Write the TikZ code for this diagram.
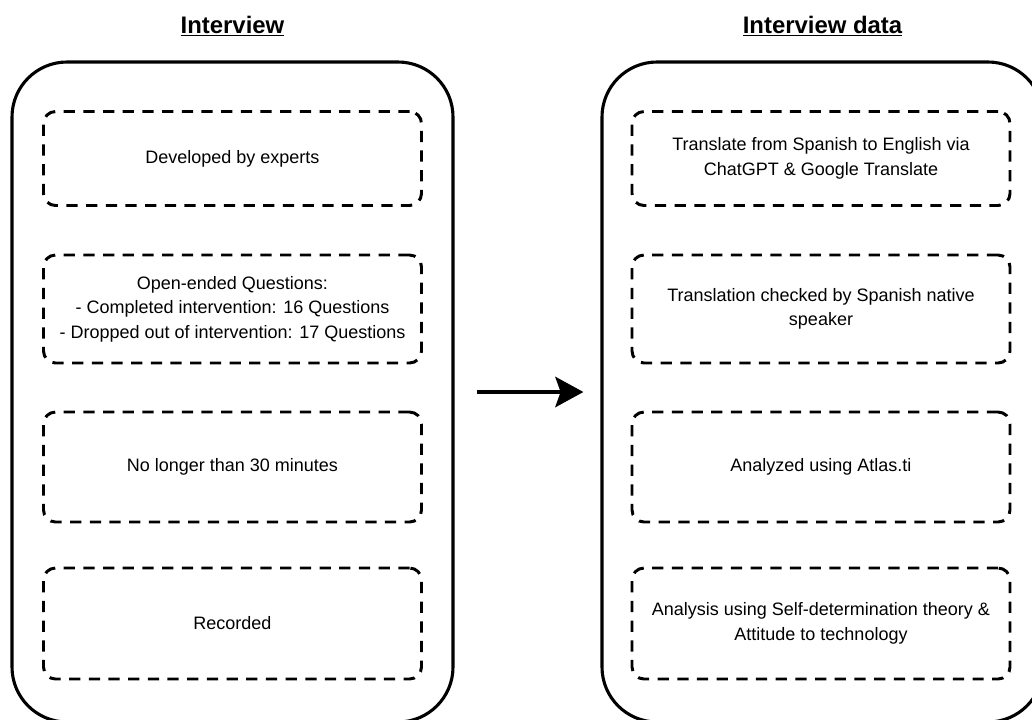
\documentclass[tikz,border=0pt]{standalone}
\usepackage{fontspec}
\setmainfont{Liberation Sans}
\usetikzlibrary{arrows.meta}

\begin{document}
\begin{tikzpicture}[
    every node/.style={font=\fontsize{12.8}{17.4}\selectfont, text=black},
    titulo/.style={font=\fontsize{17}{20}\selectfont\bfseries, anchor=base},
    bloque/.style={draw, line width=2.2pt, rounded corners=1.375cm, minimum width=11.025cm, minimum height=16.5cm},
    paso/.style={draw, line width=2.1pt, dash pattern=on 8pt off 6pt, rounded corners=0.3cm, minimum width=9.45cm, align=center}
]
\useasboundingbox (0,0) rectangle (25.8,-17.975);
% Titulos
\node[titulo] (tituloEntrevista) at (5.8125,-0.83) {\underline{Interview}};
\node[titulo] (tituloDatos) at (20.5625,-0.83) {\underline{Interview data}};
% Bloques
\node[bloque] (entrevista) at (5.8125,-9.8) {};
\node[bloque] (datos) at (20.5625,-9.8) {};
% Pasos de la entrevista
\node[paso, minimum height=2.35cm] (paso1) at (5.8125,-3.9625) {Developed by experts};
\node[paso, minimum height=2.7cm] (paso2) at (5.8125,-7.725) {Open-ended Questions:\\- Completed intervention: 16 Questions\\- Dropped out of intervention: 17 Questions};
\node[paso, minimum height=2.75cm] (paso3) at (5.8125,-11.675) {No longer than 30 minutes};
\node[paso, minimum height=2.775cm] (paso4) at (5.8125,-15.5875) {Recorded};
% Pasos de los datos
\node[paso, minimum height=2.35cm] (dato1) at (20.525,-3.9625) {Translate from Spanish to English via\\ChatGPT \& Google Translate};
\node[paso, minimum height=2.7cm] (dato2) at (20.525,-7.725) {Translation checked by Spanish native\\speaker};
\node[paso, minimum height=2.75cm] (dato3) at (20.525,-11.675) {Analyzed using Atlas.ti};
\node[paso, minimum height=2.775cm] (dato4) at (20.525,-15.5875) {Analysis using Self-determination theory \&\\Attitude to technology};
% Flecha
\draw[-{Stealth[length=0.7cm, width=0.75cm, inset=0.13cm]}, line width=3.5pt, shorten <=0.55cm, shorten >=0.425cm] (entrevista) to (datos);
\end{tikzpicture}
\end{document}
